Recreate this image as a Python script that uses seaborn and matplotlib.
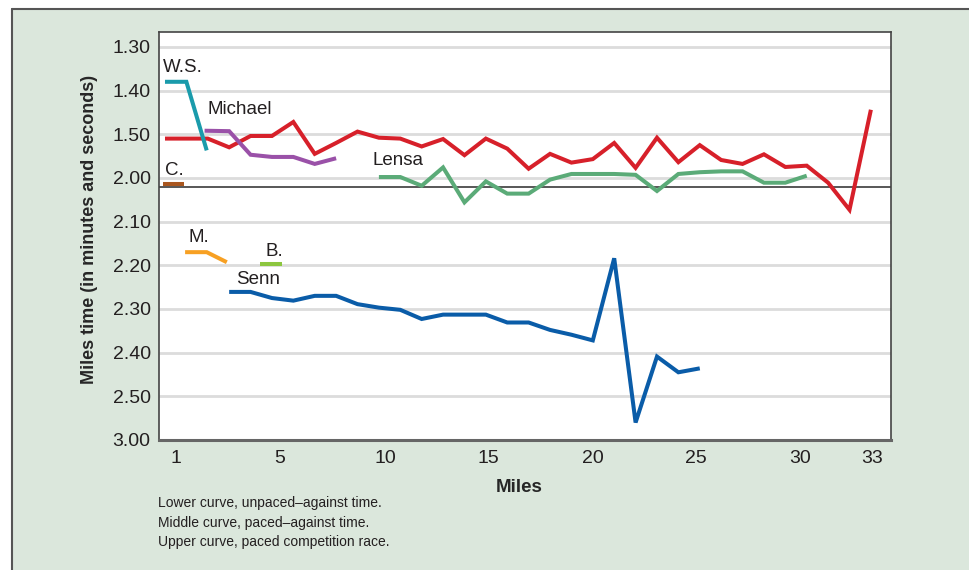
import numpy as np
import pandas as pd
import seaborn as sns
import matplotlib.pyplot as plt
from matplotlib.patches import Rectangle
from matplotlib.lines import Line2D

# y values are positions on the evenly spaced time scale (0 = 1.30, 9 = 3.00)
time_labels = ["1.30", "1.40", "1.50", "2.00", "2.10", "2.20", "2.30", "2.40", "2.50", "3.00"]
mile_labels = ["1", "5", "10", "15", "20", "25", "30", "33"]
mile_ticks = [0.49, 5.37, 10.29, 15.10, 19.98, 24.81, 29.68, 33.05]

# upper curve, paced competition race
race_x = list(range(34))
race_y = [2.10, 2.10, 2.10, 2.30, 2.04, 2.04, 1.72, 2.45, 2.20, 1.94,
          2.08, 2.10, 2.28, 2.11, 2.48, 2.10, 2.33, 2.79, 2.45, 2.65,
          2.57, 2.20, 2.77, 2.08, 2.64, 2.25, 2.59, 2.68, 2.46, 2.75,
          2.72, 3.11, 3.73, 1.44]

# middle curves, paced against time
lensa_x = list(range(10, 31))
lensa_y = [2.98, 2.98, 3.18, 2.76, 3.56, 3.08, 3.36, 3.36, 3.04, 2.91,
           2.91, 2.91, 2.93, 3.30, 2.91, 2.87, 2.85, 2.85, 3.11, 3.11, 2.95]
ws_x = [0, 1, 1.95]
ws_y = [0.80, 0.80, 2.37]
michael_x = [1.85, 3, 4, 5, 6, 7, 8]
michael_y = [1.92, 1.93, 2.47, 2.52, 2.52, 2.68, 2.55]
c_x = [-0.1, 0.9]
c_y = [3.13, 3.13]

# lower curves, unpaced against time
m_x = [0.94, 1.95, 2.89]
m_y = [4.70, 4.70, 4.93]
b_x = [4.45, 5.46]
b_y = [4.97, 4.97]
senn_x = list(range(3, 26))
senn_y = [5.61, 5.61, 5.75, 5.81, 5.70, 5.70, 5.89, 5.97, 6.02, 6.23,
          6.13, 6.13, 6.13, 6.31, 6.31, 6.48, 6.59, 6.72, 4.84, 8.60,
          7.09, 7.45, 7.36]

pace_line = 3.2

series = {
    "Race": (race_x, race_y, "#d7202a"),
    "Lensa": (lensa_x, lensa_y, "#5bab78"),
    "W.S.": (ws_x, ws_y, "#1a9bab"),
    "Michael": (michael_x, michael_y, "#9a51a8"),
    "C.": (c_x, c_y, "#a9561f"),
    "M.": (m_x, m_y, "#f7a023"),
    "B.": (b_x, b_y, "#8cc63f"),
    "Senn": (senn_x, senn_y, "#0a5ca8"),
}

frames = []
for name, (xs, ys, _) in series.items():
    frames.append(pd.DataFrame({"mile": xs, "time": ys, "rider": name}))
df = pd.concat(frames, ignore_index=True)
palette = {k: v[2] for k, v in series.items()}

sns.set_theme(style="white")
plt.rcParams['font.family'] = ['Liberation Sans', 'DejaVu Sans']
plt.rcParams['text.color'] = '#231f20'

fig = plt.figure(figsize=(9.69, 5.70), dpi=100, facecolor="white")

# light green panel with dark border on top and left
fig.patches.append(Rectangle((12 / 969, 0), 1, (570 - 9) / 570, transform=fig.transFigure,
                             facecolor="#dbe7dc", edgecolor="none", zorder=-10))
fig.lines.append(Line2D([12 / 969, 1], [(570 - 9) / 570] * 2, transform=fig.transFigure,
                        color="#555555", lw=1.5, zorder=-5))
fig.lines.append(Line2D([12 / 969] * 2, [0, (570 - 9) / 570], transform=fig.transFigure,
                        color="#555555", lw=1.5, zorder=-5))

ax = fig.add_axes([159 / 969, (570 - 440) / 570, (891 - 159) / 969, (440 - 32) / 570])
ax.set_facecolor("white")

for t in range(len(time_labels)):
    ax.axhline(t, color="#dcdcdc", lw=2, zorder=1)
ax.axhline(pace_line, color="#4a4a4a", lw=1.3, zorder=2)

sns.lineplot(data=df, x="mile", y="time", hue="rider", palette=palette, units="rider",
             estimator=None, sort=False, lw=2.9, legend=False, ax=ax, zorder=3)
for ln in ax.lines:
    ln.set_solid_capstyle("butt")
    ln.set_solid_joinstyle("miter")

ax.set_xlim(-0.28, 33.94)
ax.set_ylim(9, -0.34)
ax.set_yticks(range(len(time_labels)))
ax.set_yticklabels(time_labels)
ax.set_xticks(mile_ticks)
ax.set_xticklabels(mile_labels)
ax.tick_params(axis="both", length=0, labelsize=14, colors="#231f20")
ax.tick_params(axis="y", pad=6)
ax.tick_params(axis="x", pad=7)

for side in ["top", "right", "left"]:
    ax.spines[side].set_color("#444444")
    ax.spines[side].set_linewidth(1.2)
ax.spines["bottom"].set_color("#666666")
ax.spines["bottom"].set_linewidth(2.2)

ax.set_xlabel("Miles", fontsize=13.5, fontweight="bold")
ax.set_ylabel("Miles time (in minutes and seconds)", fontsize=13, fontweight="bold")
ax.xaxis.set_label_coords(0.492, -0.095)
ax.yaxis.set_label_coords(-0.083, 0.515)

# rider names
names = [("W.S.", -0.09, 0.48), ("Michael", 1.97, 1.44), ("C.", 0.0, 2.84),
         ("Lensa", 9.69, 2.61), ("M.", 1.12, 4.37), ("B.", 4.71, 4.68), ("Senn", 3.32, 5.33)]
for txt, tx, ty in names:
    ax.text(tx, ty, txt, fontsize=13.5, va="center", ha="left", color="#231f20", zorder=4)

notes = ["Lower curve, unpaced\u2013against time.",
         "Middle curve, paced\u2013against time.",
         "Upper curve, paced competition race."]
for i, note in enumerate(notes):
    fig.text(158 / 969, 1 - (503 + 19.5 * i) / 570, note, fontsize=10, va="center", ha="left")

fig.savefig("out.png", dpi=100, facecolor=fig.get_facecolor())
